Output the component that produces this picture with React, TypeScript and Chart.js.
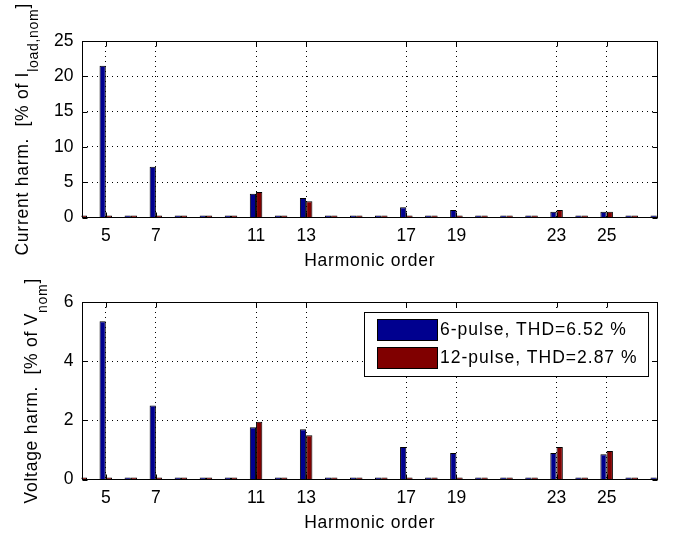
import React, { useEffect, useRef } from "react";
import { Chart, registerables } from "chart.js";

Chart.register(...registerables);

const FONT = '"Liberation Sans", Arial, Helvetica, sans-serif';
Chart.defaults.font.family = FONT;

// ---- data ----
const harmonics = [4, 5, 6, 7, 8, 9, 10, 11, 12, 13, 14, 15, 16, 17, 18, 19, 20, 21, 22, 23, 24, 25, 26, 27];
const current6Pulse = [0.3, 21.5, 0.3, 7.2, 0.3, 0.3, 0.3, 3.35, 0.3, 2.75, 0.3, 0.3, 0.3, 1.45, 0.3, 1.05, 0.3, 0.3, 0.3, 0.8, 0.3, 0.8, 0.3, 0.3];
const current12Pulse = [0.3, 0.3, 0.3, 0.3, 0.3, 0.3, 0.3, 3.6, 0.3, 2.3, 0.3, 0.3, 0.3, 0.3, 0.3, 0.3, 0.3, 0.3, 0.3, 1.05, 0.3, 0.8, 0.3, 0.3];
const voltage6Pulse = [0.07, 5.35, 0.07, 2.5, 0.07, 0.07, 0.07, 1.77, 0.07, 1.7, 0.07, 0.07, 0.07, 1.1, 0.07, 0.9, 0.07, 0.07, 0.07, 0.9, 0.07, 0.85, 0.07, 0.07];
const voltage12Pulse = [0.07, 0.07, 0.07, 0.07, 0.07, 0.07, 0.07, 1.95, 0.07, 1.5, 0.07, 0.07, 0.07, 0.07, 0.07, 0.07, 0.07, 0.07, 0.07, 1.1, 0.07, 0.96, 0.07, 0.07];
const xTickValues = [5, 7, 11, 13, 17, 19, 23, 25];
const currentYTicks = [0, 5, 10, 15, 20, 25];
const voltageYTicks = [0, 2, 4, 6];
const seriesLabels = ["6-pulse, THD=6.52 %", "12-pulse, THD=2.87 %"];
const xAxisTitle = "Harmonic order";
const currentYTitle = ["Current harm.  [% of I", "load,nom", "]"];
const voltageYTitle = ["Voltage harm.  [% of V", "nom", "]"];

const COLOR_6 = "#00008F";
const COLOR_12 = "#800000";
const FONT_SIZE = 17.5;

function textWidth(ctx: CanvasRenderingContext2D, s: string, spacing: number) {
  (ctx as any).letterSpacing = "0px";
  return ctx.measureText(s).width + s.length * spacing;
}

const decorPlugin = {
  id: "matlabDecor",
  afterDraw(chart: any, _args: any, opts: any) {
    const ctx: CanvasRenderingContext2D = chart.ctx;
    const a = chart.chartArea;
    const L = Math.round(a.left) + 0.5;
    const R = Math.round(a.right) - 0.5;
    const T = Math.round(a.top) + 0.5;
    const B = Math.round(a.bottom) - 0.5;
    ctx.save();
    ctx.setLineDash([]);
    ctx.strokeStyle = "#000";
    ctx.lineWidth = 1;
    ctx.strokeRect(L, T, R - L, B - T);

    // inward ticks
    const xs = chart.scales.x;
    const ys = chart.scales.y;
    const tl = 5;
    ctx.beginPath();
    xs.ticks.forEach((t: any) => {
      const px = Math.round(xs.getPixelForValue(t.value)) + 0.5;
      ctx.moveTo(px, T);
      ctx.lineTo(px, T + tl);
      ctx.moveTo(px, B);
      ctx.lineTo(px, B - tl);
    });
    ys.ticks.forEach((t: any) => {
      const py = Math.round(ys.getPixelForValue(t.value)) + 0.5;
      ctx.moveTo(L, py);
      ctx.lineTo(L + tl, py);
      ctx.moveTo(R, py);
      ctx.lineTo(R - tl, py);
    });
    ctx.stroke();

    // x-axis title
    ctx.fillStyle = "#000";
    ctx.font = `${FONT_SIZE}px ${FONT}`;
    const ls = 0.75;
    const xw = textWidth(ctx, opts.xTitle, ls);
    (ctx as any).letterSpacing = ls + "px";
    ctx.textBaseline = "alphabetic";
    ctx.textAlign = "left";
    ctx.fillText(opts.xTitle, (a.left + a.right) / 2 - xw / 2, a.bottom + 48.3);

    // y-axis title with subscript
    const [main, sub, tail] = opts.yTitle as string[];
    ctx.font = `${FONT_SIZE}px ${FONT}`;
    const wMain = textWidth(ctx, main, ls);
    const wTail = textWidth(ctx, tail, ls);
    ctx.font = `14px ${FONT}`;
    const wSub = textWidth(ctx, sub, 0.7);
    const total = wMain + wSub + wTail;
    ctx.save();
    ctx.translate(opts.yTitleX, (a.top + a.bottom) / 2);
    ctx.rotate(-Math.PI / 2);
    let x0 = -total / 2;
    ctx.font = `${FONT_SIZE}px ${FONT}`;
    (ctx as any).letterSpacing = ls + "px";
    ctx.fillText(main, x0, 0);
    x0 += wMain;
    ctx.font = `14px ${FONT}`;
    (ctx as any).letterSpacing = "0.7px";
    ctx.fillText(sub, x0, 10);
    x0 += wSub;
    ctx.font = `${FONT_SIZE}px ${FONT}`;
    (ctx as any).letterSpacing = ls + "px";
    ctx.fillText(tail, x0, 0);
    ctx.restore();

    // legend
    if (opts.legend) {
      const lls = 1.0;
      ctx.font = `${FONT_SIZE}px ${FONT}`;
      const items = chart.data.datasets.map((d: any) => ({ label: d.label, color: d.backgroundColor }));
      const tw = Math.max(...items.map((it: any) => textWidth(ctx, it.label, lls)));
      const padL = 13, patchW = 60, patchH = 21, gap = 2.5, padR = 11;
      const boxW = padL + patchW + gap + tw + padR;
      const boxH = 64;
      const bx = Math.round(a.right - 10 - boxW) + 0.5;
      const by = Math.round(a.top + 9.6) + 0.5;
      ctx.fillStyle = "#fff";
      ctx.fillRect(bx, by, boxW, boxH);
      ctx.strokeStyle = "#000";
      ctx.strokeRect(bx, by, boxW, boxH);
      items.forEach((it: any, i: number) => {
        const py = Math.round(by + 6 + i * 28.3) + 0.5;
        const px = bx + padL;
        ctx.fillStyle = it.color;
        ctx.fillRect(px, py, patchW, patchH);
        ctx.strokeStyle = "#000";
        ctx.strokeRect(px, py, patchW, patchH);
        ctx.fillStyle = "#000";
        ctx.textBaseline = "middle";
        (ctx as any).letterSpacing = lls + "px";
        ctx.fillText(it.label, px + patchW + gap, py + patchH / 2 + 0.5);
      });
    }
    (ctx as any).letterSpacing = "0px";
    ctx.restore();
  },
};

function buildConfig(p: {
  v6: number[];
  v12: number[];
  yMax: number;
  yTicks: number[];
  yTitle: string[];
  yTitleX: number;
  padTop: number;
  xHeight: number;
  legend: boolean;
}): any {
  const dataset = (label: string, values: number[], color: string) => ({
    label,
    data: harmonics.map((h, i) => ({ x: h, y: values[i] })),
    backgroundColor: color,
    borderColor: "#000",
    borderWidth: 1,
    categoryPercentage: 0.5,
    barPercentage: 1,
    clip: 0,
  });
  return {
    type: "bar",
    data: {
      datasets: [dataset(seriesLabels[0], p.v6, COLOR_6), dataset(seriesLabels[1], p.v12, COLOR_12)],
    },
    options: {
      animation: false,
      responsive: false,
      events: [],
      layout: { padding: { top: p.padTop, right: 17, left: 0, bottom: 0 } },
      plugins: {
        legend: { display: false },
        tooltip: { enabled: false },
        matlabDecor: { xTitle: xAxisTitle, yTitle: p.yTitle, yTitleX: p.yTitleX, legend: p.legend },
      },
      scales: {
        x: {
          type: "linear",
          min: 4.03,
          max: 27.05,
          offset: false,
          afterBuildTicks: (s: any) => {
            s.ticks = xTickValues.map((v) => ({ value: v }));
          },
          afterFit: (s: any) => {
            s.height = p.xHeight;
          },
          grid: { color: "#000", lineWidth: 1, drawTicks: false, offset: false },
          border: { display: false, dash: [1, 4] },
          ticks: { color: "#000", font: { size: FONT_SIZE }, padding: 8, maxRotation: 0, autoSkip: false },
        },
        y: {
          type: "linear",
          min: 0,
          max: p.yMax,
          afterBuildTicks: (s: any) => {
            s.ticks = p.yTicks.map((v) => ({ value: v }));
          },
          afterFit: (s: any) => {
            s.width = 81.5;
          },
          grid: { color: "#000", lineWidth: 1, drawTicks: false },
          border: { display: false, dash: [1, 4] },
          ticks: { color: "#000", font: { size: FONT_SIZE }, padding: 8 },
        },
      },
    },
    plugins: [decorPlugin],
  };
}

export default function App() {
  const topRef = useRef<HTMLCanvasElement>(null);
  const botRef = useRef<HTMLCanvasElement>(null);

  useEffect(() => {
    const c1 = new Chart(
      topRef.current as HTMLCanvasElement,
      buildConfig({
        v6: current6Pulse,
        v12: current12Pulse,
        yMax: 25,
        yTicks: currentYTicks,
        yTitle: currentYTitle,
        yTitleX: 28,
        padTop: 41,
        xHeight: 49.5,
        legend: false,
      })
    );
    const c2 = new Chart(
      botRef.current as HTMLCanvasElement,
      buildConfig({
        v6: voltage6Pulse,
        v12: voltage12Pulse,
        yMax: 6,
        yTicks: voltageYTicks,
        yTitle: voltageYTitle,
        yTitleX: 36.5,
        padTop: 35,
        xHeight: 55.5,
        legend: true,
      })
    );
    return () => {
      c1.destroy();
      c2.destroy();
    };
  }, []);

  return (
    <div style={{ position: "fixed", left: 0, top: 0, width: 675, height: 535, background: "#fff" }}>
      <canvas ref={topRef} width={675} height={267} style={{ position: "absolute", left: 0, top: 0, width: 675, height: 267 }} />
      <canvas ref={botRef} width={675} height={268} style={{ position: "absolute", left: 0, top: 267, width: 675, height: 268 }} />
    </div>
  );
}
